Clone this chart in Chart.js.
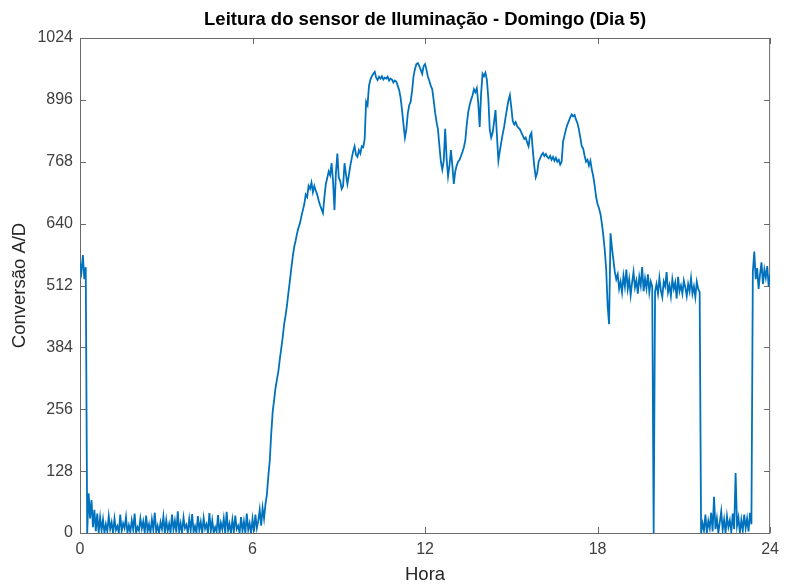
<!DOCTYPE html>
<html lang="pt">
<head>
<meta charset="utf-8">
<title>Leitura do sensor de Iluminação</title>
<script src="https://cdn.jsdelivr.net/npm/chart.js@4.4.0/dist/chart.umd.min.js"></script>
<style>
    html, body { margin: 0; padding: 0; background: #fff; }
    #wrap { width: 786px; height: 586px; }
</style>
</head>
<body>
<div id="wrap"><canvas id="grafico"></canvas></div>
<script>
// leituras do conversor A/D, uma a cada 3 minutos (0.05 h)
const intervaloHoras = 0.05;

// 0.00 h - 6.15 h
const leiturasMadrugada = [
    560, 540, 575, 525, 550, 0, 82, 30, 68, 12,
    48, 4, 40, 0, 32,
    5, 28, 0, 18, 3, 35, 8, 22, 0, 30,
    6, 14, 0, 38, 4, 20, 10, 33, 0, 16,
    2, 26, 7, 40, 0, 12, 5, 30, 9, 24,
    0, 36, 3, 18, 0, 28, 6, 42, 2, 15,
    0, 22, 8, 34, 0, 27, 4, 19, 0, 38,
    7, 25, 1, 45, 3, 20, 0, 32, 10, 17,
    0, 29, 5, 39, 2, 14, 0, 35, 6, 23,
    0, 31, 9, 18, 0, 41, 4, 26, 0, 12,
    3, 37, 0, 21, 7, 30, 0, 44, 5, 19,
    0, 27, 2, 36, 8, 15, 0, 33, 4, 24,
    0, 40, 6, 20, 0, 29, 3, 38, 10
];

// 6.20 h - 12.50 h
const leiturasManha = [
    25, 48, 15, 52, 30, 60, 80, 118, 150, 205,
    250, 275, 300, 318, 335, 360, 382, 405, 432, 450,
    472, 498, 522, 548, 572, 592, 605, 620, 632, 641,
    655, 668, 680, 700, 695, 718, 712,
    725, 705, 718, 708, 700, 688, 678, 670, 662, 695,
    722, 735, 748, 740, 765, 728, 668, 745, 785, 735,
    728, 712, 718, 765, 742, 722, 740, 760, 775, 790,
    800, 782, 778, 792, 785, 800, 798, 815,
    892, 885, 925, 938, 945, 950, 954, 942, 937, 944,
    940, 945, 938, 942, 940, 944, 936, 940, 938, 932,
    936, 934, 925, 916, 900, 875, 845, 818, 835, 868,
    885, 892, 915, 945, 960, 970, 972, 966, 958, 950,
    966, 970, 958, 944, 935, 925, 918, 895, 870, 850,
    835, 800
];

// 12.55 h - 18.75 h
const leiturasTarde = [
    768, 752, 770, 836, 775, 738, 760, 792, 760, 722,
    748, 760, 768, 772, 780, 788, 798, 812, 845, 870,
    885, 896, 905, 918, 912, 920, 890, 840, 910, 950,
    945, 952, 938, 900, 835, 818, 828, 850, 875, 822,
    770, 790, 808, 825, 840, 860, 878, 895, 906, 880,
    852, 845, 850, 842, 838, 835, 828, 822, 815, 818,
    808, 800, 822, 828, 790, 758, 736, 745, 768, 775,
    782, 786, 780, 784, 778, 775, 780, 772, 778, 770,
    776, 768, 772, 762, 768, 810, 822, 835, 845, 852,
    860, 866, 862, 865, 855, 848, 835, 818, 800, 795,
    780, 768, 772, 760, 770, 752, 738, 718, 695, 680,
    672, 660, 640, 615, 585, 545, 470, 432, 620, 590,
    565, 540, 525, 535, 505
];

// 18.80 h - 24.00 h
const leiturasNoite = [
    520, 498, 532, 510, 545, 505, 525, 492, 518, 540,
    508, 522, 495, 530, 512, 550, 500, 526, 506, 535,
    498, 520, 510, 0,
    500, 515, 495, 528, 502, 488, 520, 510, 540, 498,
    512, 490, 525, 505, 518, 485, 530, 500, 512, 495,
    522, 508, 490, 515, 500, 527, 495, 510, 488, 520,
    505, 498, 0,
    20, 5, 38, 0, 25, 10, 42, 3, 75, 8,
    30, 0, 22, 45, 6, 28, 0, 35, 12, 26,
    2, 40, 8, 124, 15, 32, 0, 27, 5, 38,
    10, 30, 3, 42, 18,
    540, 582, 525, 548, 505, 535, 560, 515, 545, 528,
    552, 510, 535
];

const horasTicks = [0, 6, 12, 18, 24];
const conversaoTicks = [0, 128, 256, 384, 512, 640, 768, 896, 1024];
const titulo = "Leitura do sensor de Iluminação - Domingo (Dia 5)";

const leituras = [...leiturasMadrugada, ...leiturasManha, ...leiturasTarde, ...leiturasNoite];
const pontos = leituras.map((v, i) => ({ x: i * intervaloHoras, y: v }));

const fonte = "'Liberation Sans', Arial, Helvetica, sans-serif";

// caixa dos eixos com marcas para dentro (estilo MATLAB) + título centrado no gráfico
const caixaEixos = {
    id: "caixaEixos",
    beforeDatasetsDraw(chart) {
        const { ctx, chartArea: a, scales } = chart;
        const tam = 6;
        ctx.save();
        ctx.strokeStyle = "#6a6a6a";
        ctx.lineWidth = 1;
        ctx.strokeRect(a.left + 0.5, a.top + 0.5, a.right - a.left - 1, a.bottom - a.top);
        ctx.beginPath();
        horasTicks.forEach(h => {
            const x = Math.round(scales.x.getPixelForValue(h)) + 0.5;
            ctx.moveTo(x, a.bottom); ctx.lineTo(x, a.bottom - tam);
            ctx.moveTo(x, a.top); ctx.lineTo(x, a.top + tam);
        });
        conversaoTicks.forEach(v => {
            const y = Math.round(scales.y.getPixelForValue(v)) + 0.5;
            ctx.moveTo(a.left, y); ctx.lineTo(a.left + tam, y);
            ctx.moveTo(a.right, y); ctx.lineTo(a.right - tam, y);
        });
        ctx.stroke();
        ctx.restore();
    },
    afterDraw(chart) {
        const { ctx, chartArea: a } = chart;
        ctx.save();
        ctx.fillStyle = "#000";
        ctx.font = "bold 18.5px " + fonte;
        ctx.textAlign = "center";
        ctx.textBaseline = "middle";
        ctx.fillText(titulo, (a.left + a.right) / 2, 20);
        ctx.restore();
    }
};

new Chart(document.getElementById("grafico"), {
    type: "line",
    data: {
        datasets: [{
            data: pontos,
            borderColor: "#0072BD",
            borderWidth: 1.8,
            pointRadius: 0,
            tension: 0,
            fill: false
        }]
    },
    options: {
        responsive: true,
        maintainAspectRatio: false,
        animation: false,
        devicePixelRatio: 1,
        layout: { padding: { left: 0, right: 15, top: 38, bottom: 0 } },
        plugins: {
            legend: { display: false },
            tooltip: { enabled: false },
            title: { display: false }
        },
        scales: {
            x: {
                type: "linear",
                min: 0,
                max: 24,
                afterBuildTicks: s => { s.ticks = horasTicks.map(v => ({ value: v })); },
                afterFit: s => { s.height = 53; },
                grid: { display: false, drawTicks: false },
                border: { display: false },
                ticks: {
                    color: "#404040",
                    font: { family: fonte, size: 16 },
                    padding: 7,
                    maxRotation: 0,
                    autoSkip: false,
                    callback: v => String(v)
                },
                title: {
                    display: true,
                    text: "Hora",
                    color: "#262626",
                    font: { family: fonte, size: 18.5 },
                    padding: { top: 0, bottom: 0 }
                }
            },
            y: {
                min: 0,
                max: 1024,
                afterBuildTicks: s => { s.ticks = conversaoTicks.map(v => ({ value: v })); },
                afterFit: s => { s.width = 80; },
                grid: { display: false, drawTicks: false },
                border: { display: false },
                ticks: {
                    color: "#404040",
                    font: { family: fonte, size: 16 },
                    padding: 7,
                    autoSkip: false,
                    callback: v => String(v)
                },
                title: {
                    display: true,
                    text: "Conversão A/D",
                    color: "#262626",
                    font: { family: fonte, size: 18.5 },
                    padding: { top: 9, bottom: 0 }
                }
            }
        }
    },
    plugins: [caixaEixos]
});
</script>
</body>
</html>
